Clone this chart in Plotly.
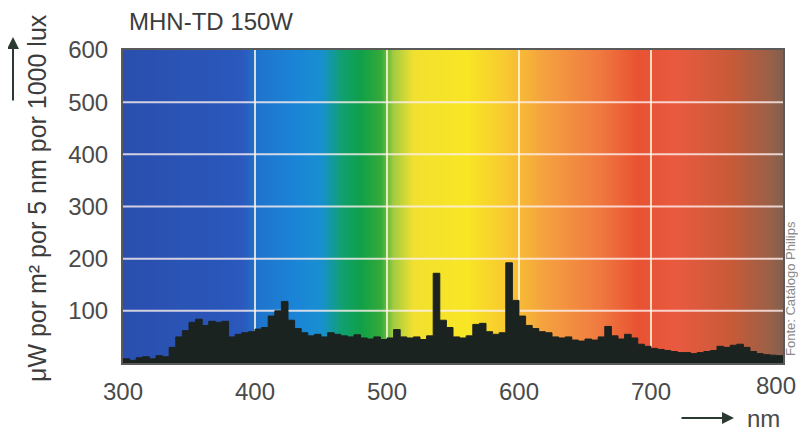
import numpy as np
import plotly.graph_objects as go

# ---- data ----
bin_start = list(range(300, 800, 5))  # 5 nm bins
spectrum = [
    8, 5, 10, 12, 8, 14, 12, 30, 50, 62,          # 300-345
    78, 84, 72, 80, 78, 80, 50, 55, 58, 60,        # 350-395
    65, 68, 90, 100, 118, 82, 66, 58, 52, 55,      # 400-445
    50, 58, 55, 52, 50, 54, 48, 46, 50, 45,        # 450-495
    48, 64, 50, 48, 50, 45, 52, 172, 82, 68,       # 500-545
    50, 48, 52, 74, 76, 60, 55, 58, 192, 120,      # 550-595
    90, 72, 66, 60, 58, 50, 48, 50, 44, 42,        # 600-645
    46, 44, 50, 70, 52, 46, 55, 48, 36, 32,        # 650-695
    28, 26, 24, 22, 20, 20, 18, 20, 22, 24,        # 700-745
    32, 30, 34, 36, 30, 22, 18, 16, 15, 14,        # 750-795
]
x_ticks = [300, 400, 500, 600, 700, 800]
y_ticks = [100, 200, 300, 400, 500, 600]
grid_x = [400, 500, 600, 700]
grid_y = [100, 200, 300, 400, 500]

# background colour of visible spectrum (wavelength nm -> colour)
spec_nm = [300, 390, 402, 430, 450, 465, 480, 495, 505, 520, 560, 590, 620, 660, 690, 720, 760, 790, 800]
spec_col = ["#2a4fae", "#2a58bc", "#1f74cc", "#1a84d6", "#1890d0", "#10a072", "#10a048",
            "#34aa38", "#a6cc40", "#f2e030", "#f8e624", "#f8c830", "#f4a040", "#f07a40",
            "#e85232", "#e85a40", "#c85a38", "#9a6048", "#806050"]

title_text = "MHN-TD 150W"
y_title = "μW por m² por 5 nm por 1000 lux"
x_unit = "nm"
source = "Fonte: Catálogo Philips"

XMIN, XMAX, YMIN, YMAX = 300, 800, 0, 600

fig = go.Figure()

# gradient background as heatmap
lo, hi = spec_nm[0], spec_nm[-1]
colorscale = [[(w - lo) / (hi - lo), c] for w, c in zip(spec_nm, spec_col)]
xs = np.arange(XMIN, XMAX + 1, 1)
fig.add_trace(go.Heatmap(
    x=xs, y=[YMIN, YMAX], z=[list(xs), list(xs)],
    colorscale=colorscale, zmin=lo, zmax=hi, showscale=False,
    zsmooth="best", hoverinfo="skip"))

# grid lines (drawn above gradient, below spectrum)
for g in grid_y:
    fig.add_trace(go.Scatter(x=[XMIN, XMAX], y=[g, g], mode="lines",
                             line=dict(color="rgba(255,240,240,0.8)", width=2),
                             hoverinfo="skip", showlegend=False))
for g in grid_x:
    fig.add_trace(go.Scatter(x=[g, g], y=[YMIN, YMAX], mode="lines",
                             line=dict(color="rgba(255,250,230,0.8)", width=2),
                             hoverinfo="skip", showlegend=False))

# spectrum as filled step
sx = bin_start + [XMAX]
sy = spectrum + [spectrum[-1]]
fig.add_trace(go.Scatter(x=sx, y=sy, mode="lines", line_shape="hv",
                         line=dict(color="#1b2320", width=1),
                         fill="tozeroy", fillcolor="#1b2320",
                         showlegend=False))

# page offset of the figure inside the browser (body margin)
OFF = 8
W, H = 806 - 2 * OFF, 432 - OFF
L, R, T, B = 123 - OFF, 783 - OFF, 50 - OFF, 363 - OFF

font_main = "Liberation Sans, Arial, sans-serif"
tick_font = dict(size=24, color="#4a4a4a")
fig.update_layout(
    width=W, height=H,
    margin=dict(l=L, r=W - R, t=T, b=H - B),
    paper_bgcolor="white", plot_bgcolor="white",
    showlegend=False,
    font=dict(family=font_main, color="#4a4a4a"),
    xaxis=dict(range=[XMIN, XMAX], tickvals=x_ticks[:-1], showgrid=False, zeroline=False,
               showline=True, linecolor="#5a5a5a", linewidth=2, mirror=True,
               ticks="outside", ticklen=6, tickcolor="rgba(0,0,0,0)",
               tickfont=tick_font),
    yaxis=dict(range=[YMIN, YMAX], tickvals=y_ticks, showgrid=False, zeroline=False,
               showline=True, linecolor="#5a5a5a", linewidth=2, mirror=True,
               ticks="outside", ticklen=8, tickcolor="rgba(0,0,0,0)",
               tickfont=tick_font),
)

def px(x):
    return (x - OFF - L) / (R - L)
def py(y):
    return (B - (y - OFF)) / (B - T)

# last x tick label, kept inside the page edge
fig.add_annotation(text=str(x_ticks[-1]), xref="x", yref="paper", x=x_ticks[-1], y=py(385),
                   xanchor="right", yanchor="middle", xshift=15, showarrow=False,
                   font=tick_font)

fig.add_annotation(text=title_text, xref="paper", yref="paper", x=px(127), y=py(22),
                   xanchor="left", yanchor="middle", showarrow=False,
                   font=dict(size=24, color="#3c3c3c"))
fig.add_annotation(text=y_title, xref="paper", yref="paper", x=px(37), y=py(198),
                   xanchor="center", yanchor="middle", showarrow=False, textangle=-90,
                   font=dict(size=25, color="#3c3c3c"))
# upward arrow at top-left
fig.add_annotation(text="", xref="paper", yref="paper", x=px(13), y=py(37),
                   ax=0, ay=65, axref="pixel", ayref="pixel",
                   showarrow=True, arrowhead=2, arrowsize=1.2, arrowwidth=2,
                   arrowcolor="#2a3a30")
# x unit with arrow
fig.add_annotation(text=x_unit, xref="paper", yref="paper", x=px(745), y=py(418),
                   xanchor="left", yanchor="middle", showarrow=False,
                   font=dict(size=24, color="#4a4a4a"))
fig.add_annotation(text="", xref="paper", yref="paper", x=px(734), y=py(418),
                   ax=-54, ay=0, axref="pixel", ayref="pixel",
                   showarrow=True, arrowhead=2, arrowsize=1.2, arrowwidth=2,
                   arrowcolor="#2a3a30")
fig.add_annotation(text=source, xref="paper", yref="paper", x=px(790), y=py(288),
                   xanchor="center", yanchor="middle", showarrow=False, textangle=-90,
                   font=dict(size=13, color="#8a8a8a"))

fig.write_html("out.html")
